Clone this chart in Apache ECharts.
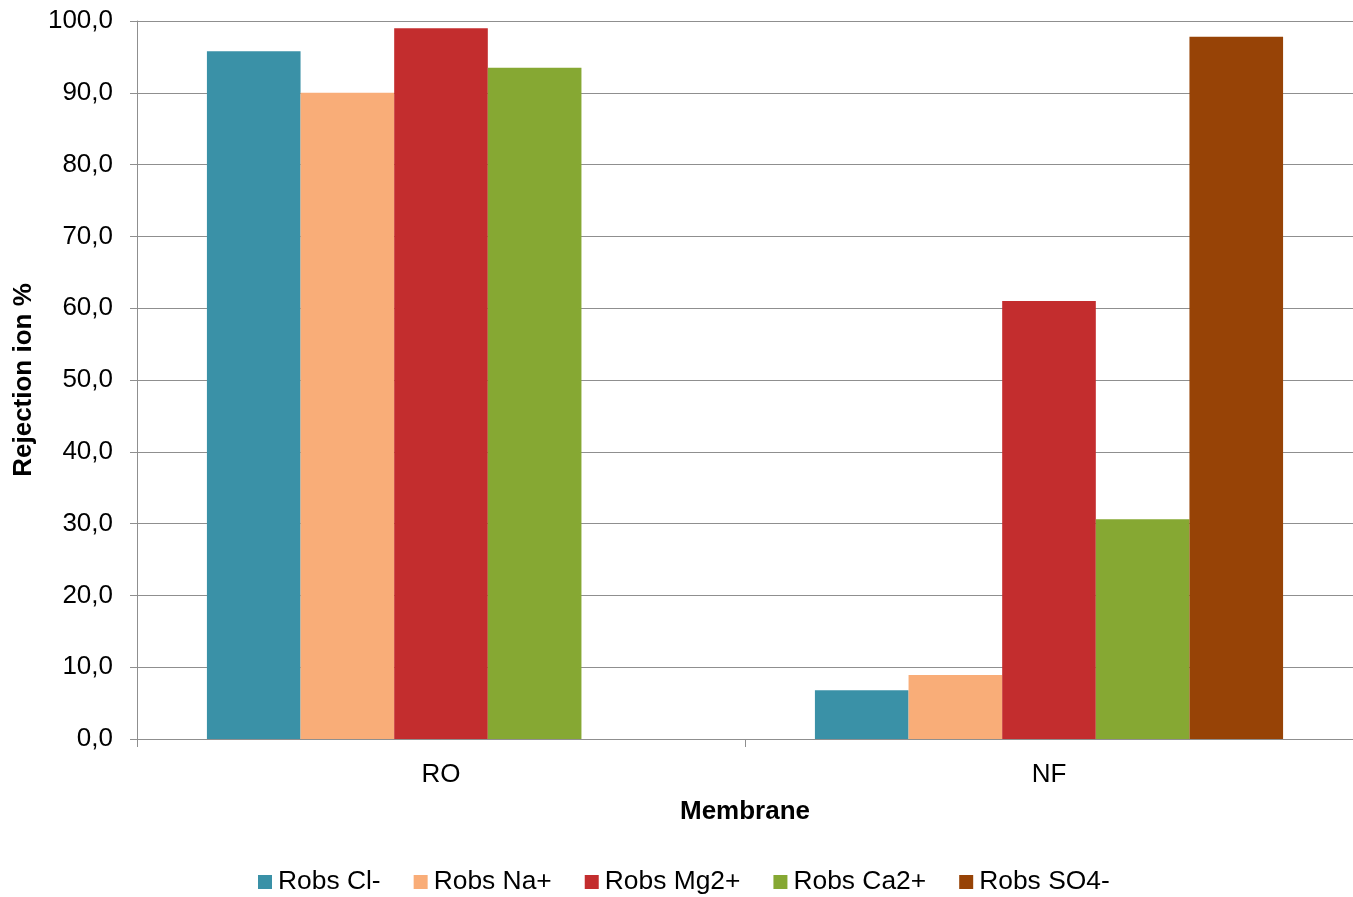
<!DOCTYPE html>
<html>
<head>
<meta charset="utf-8">
<script src="https://cdn.jsdelivr.net/npm/echarts@6/dist/echarts.min.js"></script>
<style>
  html, body { margin: 0; padding: 0; background: #fff; }
  #chart { width: 1353px; height: 897px; }
</style>
</head>
<body>
<div id="chart"></div>
<script>
// Membrane categories and ion rejection (%) per series
const membranes = ['RO', 'NF'];
const seriesNames = ['Robs Cl-', 'Robs Na+', 'Robs Mg2+', 'Robs Ca2+', 'Robs SO4-'];
const robsCl = [95.8, 6.8];
const robsNa = [90.0, 8.9];
const robsMg = [99.0, 61.0];
const robsCa = [93.5, 30.6];
const robsSO4 = [null, 97.8];
const seriesValues = [robsCl, robsNa, robsMg, robsCa, robsSO4];
const seriesColors = ['#3A91A7', '#F9AD78', '#C32D2E', '#86A833', '#974306'];

const FONT = '"Liberation Sans", Arial, sans-serif';
const GRAY = '#8f8f8f';

const chart = echarts.init(document.getElementById('chart'), null, { renderer: 'canvas' });

chart.setOption({
  animation: false,
  backgroundColor: '#ffffff',
  textStyle: { fontFamily: FONT },
  grid: {
    left: 137, right: 0, top: 21, bottom: 158,
    containLabel: false,
    outerBoundsMode: 'none'
  },
  legend: {
    data: seriesNames,
    left: 258,
    top: 868,
    padding: 0,
    itemWidth: 14,
    itemHeight: 14,
    itemGap: 33,
    icon: 'rect',
    textStyle: { fontFamily: FONT, fontSize: 26.4, lineHeight: 28, color: '#000', padding: [0, 0, 0, 1] }
  },
  xAxis: {
    type: 'category',
    data: membranes,
    name: 'Membrane',
    nameLocation: 'middle',
    nameGap: 60,
    nameTextStyle: { fontFamily: FONT, fontSize: 26, fontWeight: 'bold', color: '#000' },
    axisLine: { show: true, lineStyle: { color: GRAY, width: 1 } },
    axisTick: { show: true, length: 8, lineStyle: { color: GRAY, width: 1 } },
    axisLabel: { fontFamily: FONT, fontSize: 26, color: '#000', margin: 23 },
    splitLine: { show: false }
  },
  yAxis: {
    type: 'value',
    min: 0,
    max: 100,
    interval: 10,
    name: 'Rejection ion %',
    nameLocation: 'middle',
    nameGap: 97,
    nameRotate: 90,
    nameTextStyle: { fontFamily: FONT, fontSize: 26, fontWeight: 'bold', color: '#000' },
    axisLine: { show: true, lineStyle: { color: GRAY, width: 1 } },
    axisTick: { show: true, length: 7, lineStyle: { color: GRAY, width: 1 } },
    axisLabel: {
      fontFamily: FONT, fontSize: 26, color: '#000', margin: 24,
      formatter: v => v.toFixed(1).replace('.', ',')
    },
    splitLine: { show: true, lineStyle: { color: GRAY, width: 1 } }
  },
  series: seriesNames.map((name, i) => ({
    name: name,
    type: 'bar',
    data: seriesValues[i],
    barGap: '0%',
    barCategoryGap: '23%',
    itemStyle: { color: seriesColors[i] }
  }))
});
</script>
</body>
</html>
